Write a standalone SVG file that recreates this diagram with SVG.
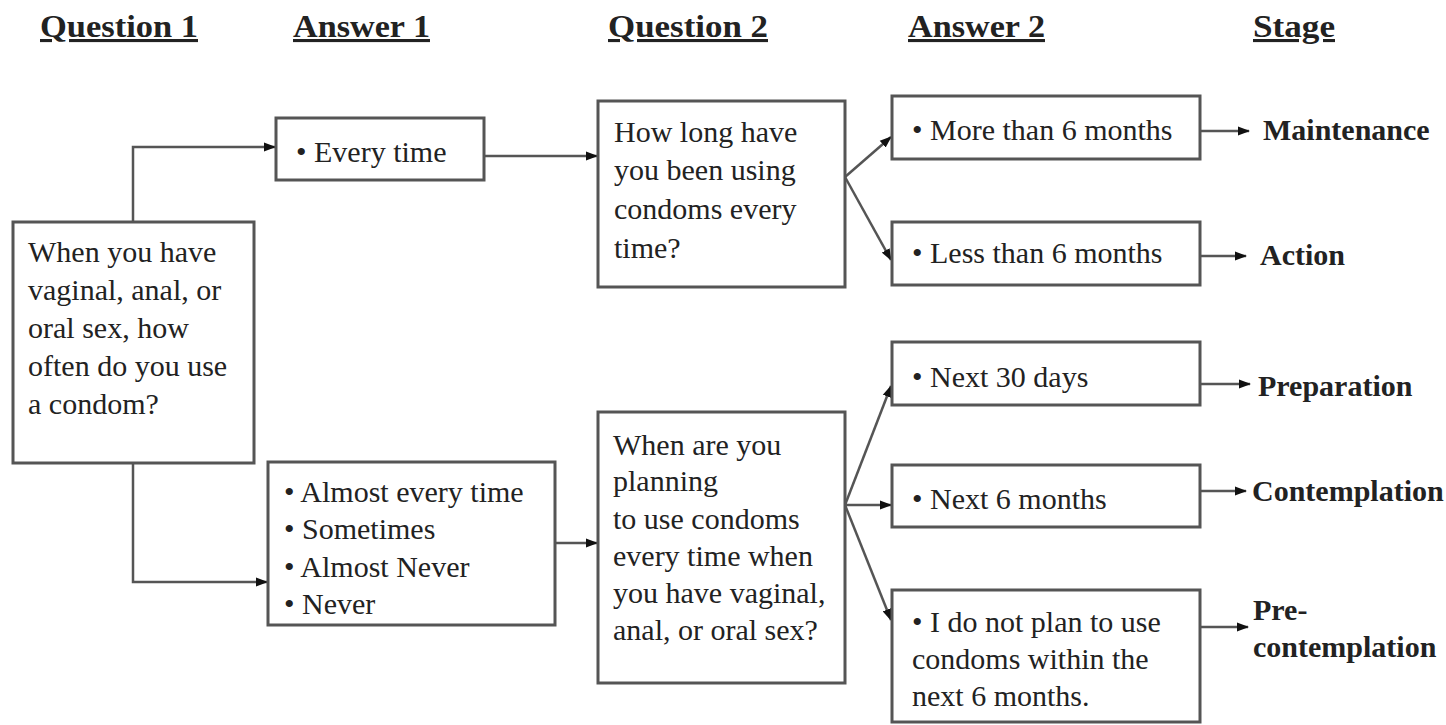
<svg xmlns="http://www.w3.org/2000/svg" width="1446" height="725" viewBox="0 0 1446 725">
<defs>
<marker id="ah" viewBox="0 0 12 10" refX="11" refY="5" markerWidth="12" markerHeight="10" markerUnits="userSpaceOnUse" orient="auto">
<path d="M0,0.5 L12,5 L0,9.5 Z" fill="#111"/>
</marker>
<style>
.box{fill:#fff;stroke:#555;stroke-width:3}
.t{font-family:"Liberation Serif","Times New Roman",serif;font-size:30px;fill:#222}
.h{font-family:"Liberation Serif","Times New Roman",serif;font-size:31px;font-weight:bold;fill:#222;text-decoration:underline}
.s{font-family:"Liberation Serif","Times New Roman",serif;font-size:30px;font-weight:bold;fill:#222}
.c{fill:none;stroke:#555;stroke-width:2.5;marker-end:url(#ah)}
</style>
</defs>
<rect width="1446" height="725" fill="#fff"/>
<g id="headers">
<text class="h" x="40" y="37" textLength="158" lengthAdjust="spacingAndGlyphs">Question 1</text>
<text class="h" x="293" y="37" textLength="137" lengthAdjust="spacingAndGlyphs">Answer 1</text>
<text class="h" x="608" y="37" textLength="160" lengthAdjust="spacingAndGlyphs">Question 2</text>
<text class="h" x="908" y="37" textLength="137" lengthAdjust="spacingAndGlyphs">Answer 2</text>
<text class="h" x="1253" y="37" textLength="82" lengthAdjust="spacingAndGlyphs">Stage</text>
</g>
<g id="connectors">
<path class="c" d="M133,222 V147 H275"/>
<path class="c" d="M133,463 V582 H267"/>
<path class="c" d="M484,156 H597"/>
<path class="c" d="M555,543 H597"/>
<path class="c" d="M845,177 L891,137"/>
<path class="c" d="M845,177 L891,260"/>
<path class="c" d="M845,505 L891,386"/>
<path class="c" d="M845,505 L891,505"/>
<path class="c" d="M845,505 L891,620"/>
<path class="c" d="M1200,131 H1249"/>
<path class="c" d="M1200,256 H1246"/>
<path class="c" d="M1200,384 H1250"/>
<path class="c" d="M1200,491 H1246"/>
<path class="c" d="M1200,627 H1248"/>
</g>
<g id="q1">
<rect class="box" x="13" y="222" width="241" height="241"/>
<text class="t" x="28" y="262">When you have</text>
<text class="t" x="28" y="300">vaginal, anal, or</text>
<text class="t" x="28" y="338">oral sex, how</text>
<text class="t" x="28" y="376">often do you use</text>
<text class="t" x="28" y="414">a condom?</text>
</g>
<g id="a1-every">
<rect class="box" x="276" y="118" width="208" height="62"/>
<text class="t" x="296" y="162">• Every time</text>
</g>
<g id="a1-other">
<rect class="box" x="268" y="462" width="287" height="163"/>
<text class="t" x="284" y="502">• Almost every time</text>
<text class="t" x="284" y="539">• Sometimes</text>
<text class="t" x="284" y="577">• Almost Never</text>
<text class="t" x="284" y="614">• Never</text>
</g>
<g id="q2-howlong">
<rect class="box" x="598" y="101" width="247" height="186"/>
<text class="t" x="614" y="142">How long have</text>
<text class="t" x="614" y="180">you been using</text>
<text class="t" x="614" y="219">condoms every</text>
<text class="t" x="614" y="258">time?</text>
</g>
<g id="q2-when">
<rect class="box" x="598" y="412" width="247" height="271"/>
<text class="t" x="613" y="455">When are you</text>
<text class="t" x="613" y="491">planning</text>
<text class="t" x="613" y="529">to use condoms</text>
<text class="t" x="613" y="566">every time when</text>
<text class="t" x="613" y="603">you have vaginal,</text>
<text class="t" x="613" y="640">anal, or oral sex?</text>
</g>
<g id="a2-more">
<rect class="box" x="892" y="96" width="308" height="63"/>
<text class="t" x="912" y="140">• More than 6 months</text>
</g>
<g id="a2-less">
<rect class="box" x="892" y="222" width="308" height="63"/>
<text class="t" x="912" y="263">• Less than 6 months</text>
</g>
<g id="a2-next30">
<rect class="box" x="892" y="342" width="308" height="63"/>
<text class="t" x="912" y="387">• Next 30 days</text>
</g>
<g id="a2-next6">
<rect class="box" x="892" y="465" width="308" height="62"/>
<text class="t" x="912" y="509">• Next 6 months</text>
</g>
<g id="a2-noplan">
<rect class="box" x="892" y="590" width="308" height="132"/>
<text class="t" x="912" y="632">• I do not plan to use</text>
<text class="t" x="912" y="669">condoms within the</text>
<text class="t" x="912" y="706">next 6 months.</text>
</g>
<g id="stages">
<text class="s" x="1263" y="140">Maintenance</text>
<text class="s" x="1260" y="265">Action</text>
<text class="s" x="1258" y="396">Preparation</text>
<text class="s" x="1252" y="501">Contemplation</text>
<text class="s" x="1253" y="620">Pre-</text>
<text class="s" x="1253" y="657">contemplation</text>
</g>
</svg>
